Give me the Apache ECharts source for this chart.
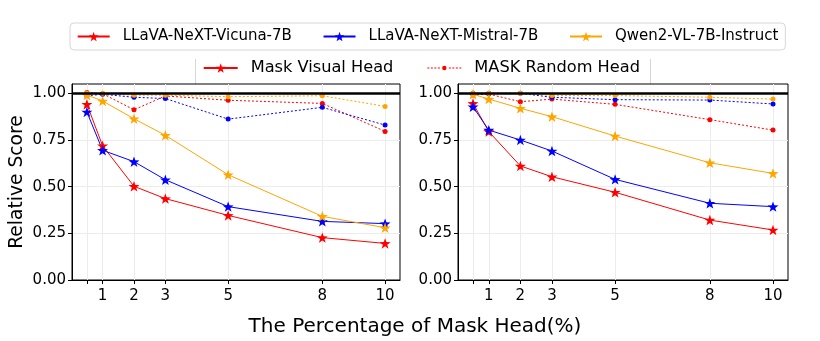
<!DOCTYPE html>
<html>
<head>
<meta charset="utf-8">
<script src="https://cdn.jsdelivr.net/npm/echarts@6/dist/echarts.min.js"></script>
<style>
  html, body { margin: 0; padding: 0; background: #fff; }
  #chart-container { width: 820px; height: 341px; }
</style>
</head>
<body>
<div id="chart-container"></div>
<script>
const xValues = [0.5, 1, 2, 3, 5, 8, 10];
const tickValues = [0.5, 1, 2, 3, 5, 8, 10];
const tickLabels = [1, 2, 3, 5, 8, 10];
const yTicks = [0, 0.25, 0.5, 0.75, 1.0];

const modelNames = ["LLaVA-NeXT-Vicuna-7B", "LLaVA-NeXT-Mistral-7B", "Qwen2-VL-7B-Instruct"];
const modelColors = ["#ff0000", "#0000ff", "#ffa500"];
const methodNames = ["Mask Visual Head", "MASK Random Head"];

// left panel
const leftVicunaVisual = [0.941, 0.719, 0.502, 0.436, 0.346, 0.227, 0.196];
const leftMistralVisual = [0.900, 0.695, 0.634, 0.537, 0.393, 0.314, 0.302];
const leftQwenVisual = [0.991, 0.959, 0.864, 0.775, 0.564, 0.341, 0.280];
const leftVicunaRandom = [1.005, 0.998, 0.912, 0.986, 0.963, 0.946, 0.796];
const leftMistralRandom = [0.987, 0.995, 0.979, 0.972, 0.862, 0.925, 0.830];
const leftQwenRandom = [1.0, 1.0, 0.99, 0.99, 0.982, 0.987, 0.930];

// right panel
const rightVicunaVisual = [0.946, 0.795, 0.611, 0.553, 0.470, 0.321, 0.268];
const rightMistralVisual = [0.928, 0.803, 0.750, 0.691, 0.539, 0.411, 0.393];
const rightQwenVisual = [0.995, 0.969, 0.920, 0.875, 0.771, 0.628, 0.571];
const rightVicunaRandom = [0.991, 0.996, 0.955, 0.969, 0.941, 0.859, 0.803];
const rightMistralRandom = [1.0, 1.0, 1.0, 0.979, 0.966, 0.964, 0.943];
const rightQwenRandom = [1.0, 1.0, 1.0, 0.988, 0.988, 0.979, 0.969];

const STAR = "path://M0,-10 L2.35,-3.24 L9.51,-3.09 L3.8,1.24 L5.88,8.09 L0,4 L-5.88,8.09 L-3.8,1.24 L-9.51,-3.09 L-2.35,-3.24 Z";
// legend icon for the random head entry: dotted line with a small dot in the middle
const DOTTED_ICON = "path://M0,1.6 h2 v1.2 h-2 Z M3.5,1.6 h2 v1.2 h-2 Z M7,1.6 h2 v1.2 h-2 Z M10.5,1.6 h2 v1.2 h-2 Z " +
  "M14.8,2.2 A2.2,2.2 0 1,1 19.2,2.2 A2.2,2.2 0 1,1 14.8,2.2 Z " +
  "M21.5,1.6 h2 v1.2 h-2 Z M25,1.6 h2 v1.2 h-2 Z M28.5,1.6 h2 v1.2 h-2 Z M32,1.6 h2 v1.2 h-2 Z";
const FONT = "DejaVu Sans";

function pts(arr) {
  return xValues.map((x, i) => [x, arr[i]]);
}

function visual(name, arr, color, idx) {
  return {
    name: name, type: "line", xAxisIndex: idx, yAxisIndex: idx,
    data: pts(arr), symbol: STAR, symbolSize: 11, symbolKeepAspect: true,
    lineStyle: { color: color, width: 1 }, itemStyle: { color: color },
    z: 3, animation: false,
  };
}
function random(name, arr, color, idx) {
  return {
    name: name, type: "line", xAxisIndex: idx, yAxisIndex: idx,
    data: pts(arr), symbol: "circle", symbolSize: 5,
    lineStyle: { color: color, width: 1, type: [2, 2] }, itemStyle: { color: color },
    z: 2, animation: false,
  };
}

function xAxis(idx) {
  return {
    type: "value", gridIndex: idx, min: 0.025, max: 10.475,
    axisLine: { show: true, lineStyle: { color: "#000", width: 1 } },
    axisTick: { show: true, length: 4, customValues: tickValues, lineStyle: { color: "#000" } },
    axisLabel: { customValues: tickLabels, color: "#000", fontSize: 15, fontFamily: FONT, margin: 9 },
    splitLine: { show: true, lineStyle: { color: "#ececec", width: 1 } },
  };
}
function yAxis(idx) {
  return {
    type: "value", gridIndex: idx, min: 0, max: 1.05,
    axisLine: { show: true, lineStyle: { color: "#000", width: 1 } },
    axisTick: { show: true, length: 4, customValues: yTicks, lineStyle: { color: "#000" } },
    axisLabel: {
      customValues: yTicks, color: "#000", fontSize: 15, fontFamily: FONT, margin: 6,
      formatter: (v) => v.toFixed(2),
    },
    splitLine: { show: true, lineStyle: { color: "#ececec", width: 1 } },
    name: idx === 0 ? "Relative Score" : "",
    nameLocation: "middle", nameGap: 45,
    nameTextStyle: { fontSize: 18.7, fontFamily: FONT, color: "#000" },
  };
}

const series = [
  visual("lv", leftVicunaVisual, modelColors[0], 0),
  visual("lm", leftMistralVisual, modelColors[1], 0),
  visual("lq", leftQwenVisual, modelColors[2], 0),
  random("lvr", leftVicunaRandom, modelColors[0], 0),
  random("lmr", leftMistralRandom, modelColors[1], 0),
  random("lqr", leftQwenRandom, modelColors[2], 0),
  visual("rv", rightVicunaVisual, modelColors[0], 1),
  visual("rm", rightMistralVisual, modelColors[1], 1),
  visual("rq", rightQwenVisual, modelColors[2], 1),
  random("rvr", rightVicunaRandom, modelColors[0], 1),
  random("rmr", rightMistralRandom, modelColors[1], 1),
  random("rqr", rightQwenRandom, modelColors[2], 1),
];

// reference line at 1.0 in both panels
[0, 1].forEach((idx) => {
  series.push({
    name: "ref" + idx, type: "line", xAxisIndex: idx, yAxisIndex: idx, data: [],
    z: 5, animation: false,
    markLine: {
      silent: true, symbol: "none", label: { show: false },
      lineStyle: { color: "#000", width: 2.5, type: "solid" },
      data: [{ yAxis: 1.0 }],
    },
  });
});

// legend-only series
modelNames.forEach((n, i) => {
  series.push({
    name: n, type: "line", data: [], symbol: STAR, symbolSize: 11,
    lineStyle: { color: modelColors[i], width: 1 }, itemStyle: { color: modelColors[i] },
  });
});
series.push({
  name: methodNames[0], type: "line", data: [], symbol: STAR, symbolSize: 11,
  lineStyle: { color: "#ff0000", width: 1 }, itemStyle: { color: "#ff0000" },
});
series.push({
  name: methodNames[1], type: "line", data: [], symbol: "circle", symbolSize: 5,
  lineStyle: { color: "#ff0000", width: 1, type: [2, 2] }, itemStyle: { color: "#ff0000" },
});

var dom = document.getElementById("chart-container");
var myChart = echarts.init(dom, null, { renderer: "canvas" });

var option = {
  animation: false,
  textStyle: { fontFamily: FONT },
  title: {
    text: "The Percentage of Mask Head(%)",
    left: 410, textAlign: "center", top: 312,
    textStyle: { fontSize: 20, fontWeight: "normal", fontFamily: FONT, color: "#000" },
  },
  legend: [
    {
      data: modelNames, left: 70, top: 23,
      padding: [6, 7, 6, 6.7], itemWidth: 32, itemHeight: 12, itemGap: 30.7,
      borderColor: "#d6d6d6", borderWidth: 1, borderRadius: 4,
      textStyle: { fontSize: 15, fontFamily: FONT, color: "#000", padding: [0, 0, 0, 8] },
    },
    {
      data: [methodNames[0], { name: methodNames[1], icon: DOTTED_ICON }],
      left: 195, top: 56, symbolKeepAspect: true,
      padding: [4, 8, 4, 7.7], itemWidth: 34, itemHeight: 12, itemGap: 34,
      borderWidth: 0,
      textStyle: { fontSize: 16.2, fontFamily: FONT, color: "#000", padding: [0, 0, 0, 8] },
    },
  ],
  graphic: [
    { type: "line", z: -1, shape: { x1: 195.5, y1: 59, x2: 195.5, y2: 84 }, style: { stroke: "#d6d6d6", lineWidth: 1 } },
    { type: "line", z: -1, shape: { x1: 650.5, y1: 59, x2: 650.5, y2: 84 }, style: { stroke: "#d6d6d6", lineWidth: 1 } },
  ],
  grid: [
    { left: 72, top: 84, width: 328, height: 196, show: true, borderColor: "#000", borderWidth: 1 },
    { left: 458, top: 84, width: 330, height: 196, show: true, borderColor: "#000", borderWidth: 1 },
  ],
  xAxis: [xAxis(0), xAxis(1)],
  yAxis: [yAxis(0), yAxis(1)],
  series: series,
};

if (option && typeof option === "object") {
  myChart.setOption(option);
}

window.addEventListener("resize", myChart.resize);
</script>
</body>
</html>
